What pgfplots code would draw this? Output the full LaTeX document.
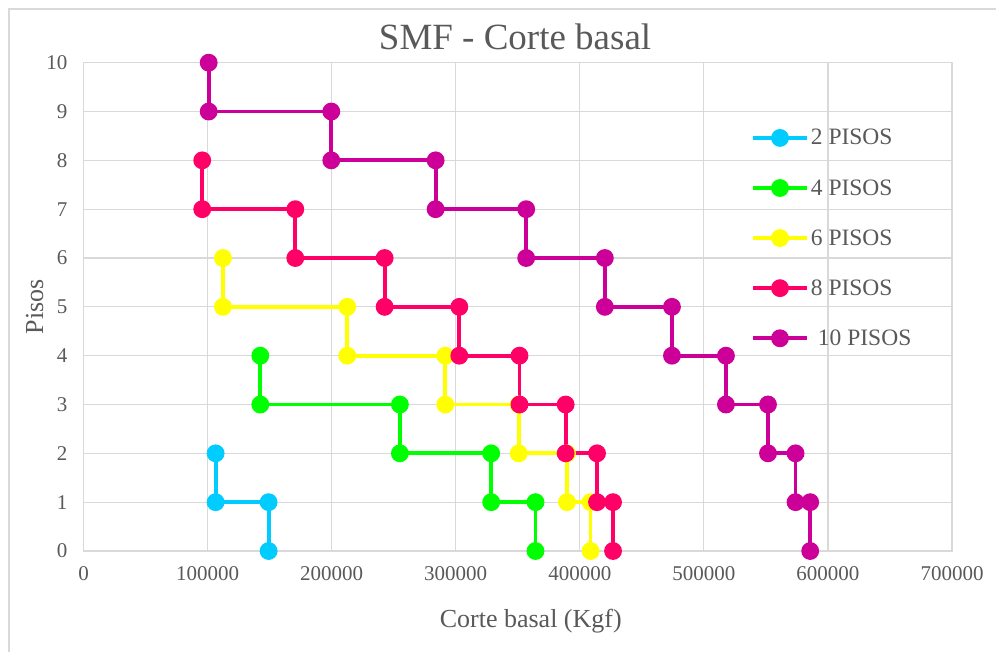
\documentclass[border=0pt]{standalone}
\usepackage{fontspec}
\setmainfont{Liberation Serif}
\usepackage{pgfplots}
\pgfplotsset{compat=1.18}
\definecolor{cA}{HTML}{00CCFF}
\definecolor{cB}{HTML}{00FF00}
\definecolor{cC}{HTML}{FFFF00}
\definecolor{cD}{HTML}{FF0066}
\definecolor{cE}{HTML}{CC0099}
\definecolor{gridc}{HTML}{D9D9D9}
\definecolor{txt}{HTML}{595959}
\begin{document}
\begin{tikzpicture}
\useasboundingbox (-83.5pt,-100pt) rectangle (912.5pt,551pt);
\draw[gridc, line width=1.2pt] (-74.5pt,-130pt) -- (-74.5pt,542pt) -- (950pt,542pt);
\begin{axis}[
  at={(0pt,0pt)}, anchor=south west,
  scale only axis, width=868.5pt, height=488.3pt,
  xmin=0, xmax=700000, ymin=0, ymax=10,
  xtick={0,100000,200000,300000,400000,500000,600000,700000},
  ytick={0,1,2,3,4,5,6,7,8,9,10},
  scaled x ticks=false,
  /pgf/number format/1000 sep={},
  /pgf/number format/fixed,
  /pgf/number format/assume math mode=true,
  ticklabel style={font=\fontsize{21}{21}\selectfont, text=txt},
  xticklabel style={yshift=-12pt},
  yticklabel style={xshift=-12.5pt},
  major tick length=0pt,
  grid=major,
  major grid style={gridc, line width=1.2pt},
  axis line style={gridc, line width=1.2pt},
  title={SMF - Corte basal},
  title style={font=\fontsize{37}{37}\selectfont, text=txt, at={(axis description cs:0.497,1)}, anchor=base, yshift=6.7pt},
  xlabel={Corte basal (Kgf)},
  xlabel style={font=\fontsize{26}{26}\selectfont, text=txt, at={(axis description cs:0.515,0)}, anchor=base, yshift=-76pt},
  ylabel={Pisos},
  ylabel style={font=\fontsize{26}{26}\selectfont, text=txt, at={(axis description cs:-0.0465,0.5)}, rotate=0, anchor=base},
  legend style={at={(axis description cs:0.765,0.872)}, anchor=north west, draw=none, fill=none,
     font=\fontsize{23.5}{23.5}\selectfont, text=txt, row sep=29pt,
     /tikz/every even column/.append style={column sep=0pt}},
  legend cell align=left,
  legend image code/.code={\draw[mark repeat=2,mark phase=2,#1] plot coordinates {(0pt,0pt) (27pt,0pt) (54pt,0pt)};},
  every axis plot/.append style={line width=3.8pt, mark=*, mark size=7pt},
]
\addplot[cA, mark options={fill=cA, draw=cA, solid}] coordinates {
(106500,2) (106500,1) (149200,1) (149200,0)};
\addlegendentry{2 PISOS}
\addplot[cB, mark options={fill=cB, draw=cB, solid}] coordinates {
(142500,4) (142500,3) (255000,3) (255000,2) (328600,2) (328600,1) (364300,1) (364300,0)};
\addlegendentry{4 PISOS}
\addplot[cC, mark options={fill=cC, draw=cC, solid}] coordinates {
(112400,6) (112400,5) (212600,5) (212600,4) (291600,4) (291600,3) (350800,3) (350800,2) (389700,2) (389700,1) (408700,1) (408700,0)};
\addlegendentry{6 PISOS}
\addplot[cD, mark options={fill=cD, draw=cD, solid}] coordinates {
(95700,8) (95700,7) (170700,7) (170700,6) (242700,6) (242700,5) (302900,5) (302900,4) (351400,4) (351400,3) (388600,3) (388600,2) (413900,2) (413900,1) (426800,1) (426800,0)};
\addlegendentry{8 PISOS}
\addplot[cE, mark options={fill=cE, draw=cE, solid}] coordinates {
(100900,10) (100900,9) (199700,9) (199700,8) (283800,8) (283800,7) (356800,7) (356800,6) (420200,6) (420200,5) (474300,5) (474300,4) (517800,4) (517800,3) (551700,3) (551700,2) (573900,2) (573900,1) (585700,1) (585700,0)};
\addlegendentry{\hspace{0.3em}10 PISOS}
\end{axis}
\end{tikzpicture}
\end{document}
